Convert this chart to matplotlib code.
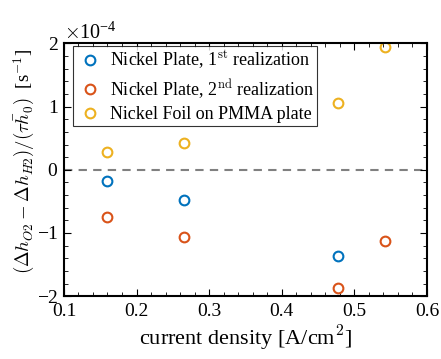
import matplotlib
matplotlib.use("Agg")
import matplotlib.pyplot as plt
from matplotlib.ticker import MultipleLocator, ScalarFormatter, FormatStrFormatter

plt.rcParams['font.family'] = ['Liberation Serif', 'DejaVu Serif']
plt.rcParams['mathtext.fontset'] = 'cm'
plt.rcParams['axes.unicode_minus'] = False

x1 = [0.159, 0.266, 0.478]
y1 = [-0.18e-4, -0.48e-4, -1.36e-4]
x2 = [0.159, 0.266, 0.478, 0.542]
y2 = [-0.74e-4, -1.06e-4, -1.87e-4, -1.13e-4]
x3 = [0.159, 0.266, 0.478, 0.542]
y3 = [0.28e-4, 0.43e-4, 1.05e-4, 1.95e-4]
labels = ['Nickel Plate, 1$^{\\rm st}$ realization',
          'Nickel Plate, 2$^{\\rm nd}$ realization',
          'Nickel Foil on PMMA plate']
colors = ['#0072BD', '#D95319', '#EDB120']

fig = plt.figure(figsize=(4.41, 3.59), dpi=100)
ax = fig.add_axes([0.145, 0.175, 0.823, 0.704])

for xs, ys, lab, c in zip([x1, x2, x3], [y1, y2, y3], labels, colors):
    ax.plot(xs, ys, 'o', mfc='none', mec=c, mew=1.5, ms=7, label=lab)

ax.axhline(0, color='#808080', ls='--', lw=1.5, dashes=(4, 3), zorder=0)

ax.set_xlim(0.1, 0.6)
ax.set_ylim(-2e-4, 2e-4)
ax.xaxis.set_major_locator(MultipleLocator(0.1))
ax.xaxis.set_minor_locator(MultipleLocator(0.02))
ax.yaxis.set_major_locator(MultipleLocator(1e-4))
ax.yaxis.set_minor_locator(MultipleLocator(0.2e-4))
fmt = ScalarFormatter(useMathText=True)
fmt.set_powerlimits((0, 0))
ax.yaxis.set_major_formatter(fmt)
ax.xaxis.set_major_formatter(FormatStrFormatter('%.1f'))
ax.tick_params(which='both', direction='in', top=True, right=True, labelsize=14)
ax.tick_params(axis='y', pad=4)
ax.tick_params(axis='x', pad=5)
ax.tick_params(which='major', length=5, width=0.8)
ax.tick_params(which='minor', length=3, width=0.6)
ax.yaxis.get_offset_text().set_fontsize(14.5)
for s in ax.spines.values():
    s.set_linewidth(1.5)

ax.set_xlabel('current density [A/cm$^2$]', fontsize=16, labelpad=3)
ax.set_ylabel('$(\\Delta h_{O2} - \\Delta h_{H2})/(\\tau\\bar{h}_0)$  [s$^{-1}$]', fontsize=13.5)
ax.yaxis.set_label_coords(-0.075, 0.535)

leg = ax.legend(loc='upper left', fontsize=13, frameon=True, fancybox=False,
                edgecolor='black', handlelength=1.6, handletextpad=0.3,
                borderpad=0.15, labelspacing=0.3, borderaxespad=0,
                bbox_to_anchor=(0.025, 0.99))
leg.get_frame().set_linewidth(0.8)

fig.savefig('out.png', dpi=100)
